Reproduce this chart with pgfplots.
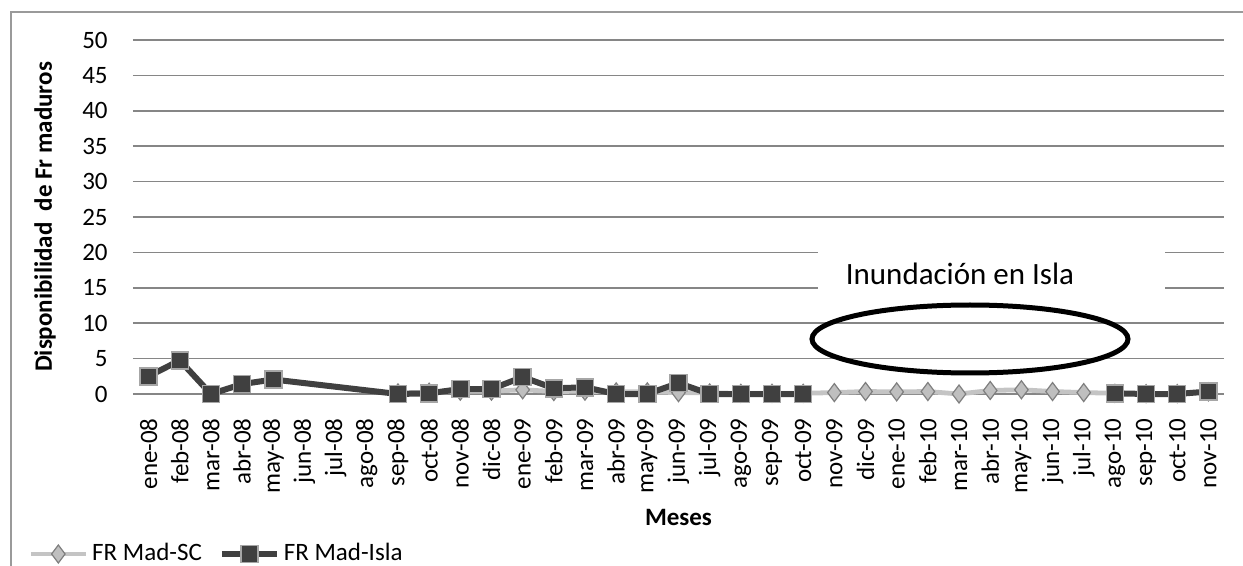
\documentclass[border=0pt]{standalone}
\usepackage{fontspec}
\setmainfont{Carlito}
\usepackage{pgfplots}
\pgfplotsset{compat=1.18}
\usepackage{pgfplotstable}

\definecolor{gridgray}{HTML}{868686}
\definecolor{framegray}{HTML}{9A9A9A}
\definecolor{islaline}{HTML}{404040}
\definecolor{islaedge}{HTML}{A6A6A6}
\definecolor{scline}{HTML}{C4C4C4}
\definecolor{scfill}{HTML}{BFBFBF}
\definecolor{scedge}{HTML}{7F7F7F}

% x = month index (0 = ene-08 ... 34 = nov-10)
\pgfplotstableread{
x y
8 0.15
9 0.25
10 0.4
11 0.4
12 0.6
13 0.35
14 0.4
15 0.3
16 0.3
17 0.2
18 0.15
19 0.1
20 0.1
21 0.1
22 0.2
23 0.35
24 0.3
25 0.35
26 0.0
27 0.5
28 0.6
29 0.35
30 0.2
31 0.1
32 0.05
33 0.05
34 0.3
}\sctable

\pgfplotstableread{
x y
0 2.5
1 4.75
2 0
3 1.4
4 2.05
8 0
9 0.1
10 0.7
11 0.7
12 2.4
13 0.8
14 0.95
15 0
16 0
17 1.55
18 0
19 0
20 0
21 0
22 nan
31 0.1
32 0
33 0
34 0.35
}\islatable

\begin{document}
\fontsize{12.5bp}{15bp}\selectfont
\begin{tikzpicture}
\useasboundingbox (-66.5bp,-86bp) rectangle (555bp,197bp);
\draw[framegray, line width=0.75bp] (-61bp,-120bp) -- (-61bp,191bp) -- (620bp,191bp);
\begin{axis}[
    name=ax,
    at={(0,0)}, anchor=south west,
    width=545.5bp, height=177bp,
    scale only axis,
    xmin=-0.5, xmax=34.5,
    ymin=0, ymax=50,
    axis line style={draw=none},
    major tick length=0pt,
    ytick={0,5,...,50},
    ymajorgrids,
    grid style={gridgray, line width=0.75bp},
    xtick={0,...,34},
    xticklabels={ene-08,feb-08,mar-08,abr-08,may-08,jun-08,jul-08,ago-08,sep-08,oct-08,nov-08,dic-08,ene-09,feb-09,mar-09,abr-09,may-09,jun-09,jul-09,ago-09,sep-09,oct-09,nov-09,dic-09,ene-10,feb-10,mar-10,abr-10,may-10,jun-10,jul-10,ago-10,sep-10,oct-10,nov-10},
    xticklabel style={yshift=-12bp, rotate=90, anchor=east, inner sep=0pt},
    yticklabel style={anchor=east, inner sep=0pt, xshift=-12.5bp},
    tick label style={font=\fontsize{12.5bp}{15bp}\selectfont},
    /pgf/number format/assume math mode=true,
    xlabel={\textbf{Meses}},
    ylabel={\textbf{Disponibilidad\ \ de Fr maduros}},
    xlabel style={at={(axis description cs:0.5,-0.350)}, anchor=center},
    ylabel style={at={(axis description cs:-0.0807,0.5)}, anchor=center},
    label style={font=\fontsize{12.5bp}{15bp}\selectfont},
    unbounded coords=jump,
    clip=false,
    legend columns=2,
    legend cell align=left,
    legend style={
        at={(axis description cs:-0.0962,-0.452)}, anchor=west,
        draw=none, fill=none, inner sep=0pt,
        font=\fontsize{12.5bp}{15bp}\selectfont,
        nodes={inner sep=0pt},
        /tikz/every odd column/.append style={column sep=2bp},
        /tikz/every even column/.append style={column sep=8.5bp},
    },
    legend image code/.code={
        \draw[mark repeat=2, mark phase=2] plot coordinates {(0bp,0bp)(13.75bp,0bp)(27.5bp,0bp)};
    },
]
\addplot[scline, line width=2.4bp, mark=diamond*, mark size=4.5bp,
    mark options={fill=scfill, draw=scedge, line width=0.6bp}]
    table[x=x, y=y] {\sctable};
\addlegendentry{FR Mad-SC}
\addplot[islaline, line width=3bp, mark=square*, mark size=4.25bp,
    mark options={fill=islaline, draw=islaedge, line width=0.75bp}]
    table[x=x, y=y] {\islatable};
\addlegendentry{FR Mad-Isla}
\end{axis}
\fill[white] (342.5bp,51bp) rectangle (516bp,73.5bp);
\node[font=\fontsize{15.5bp}{18bp}\selectfont] at (413.5bp,60bp) {Inundación en Isla};
\draw[black, line width=2.5bp] (418.5bp,27.5bp) ellipse [x radius=79bp, y radius=17bp];
\end{tikzpicture}
\end{document}
